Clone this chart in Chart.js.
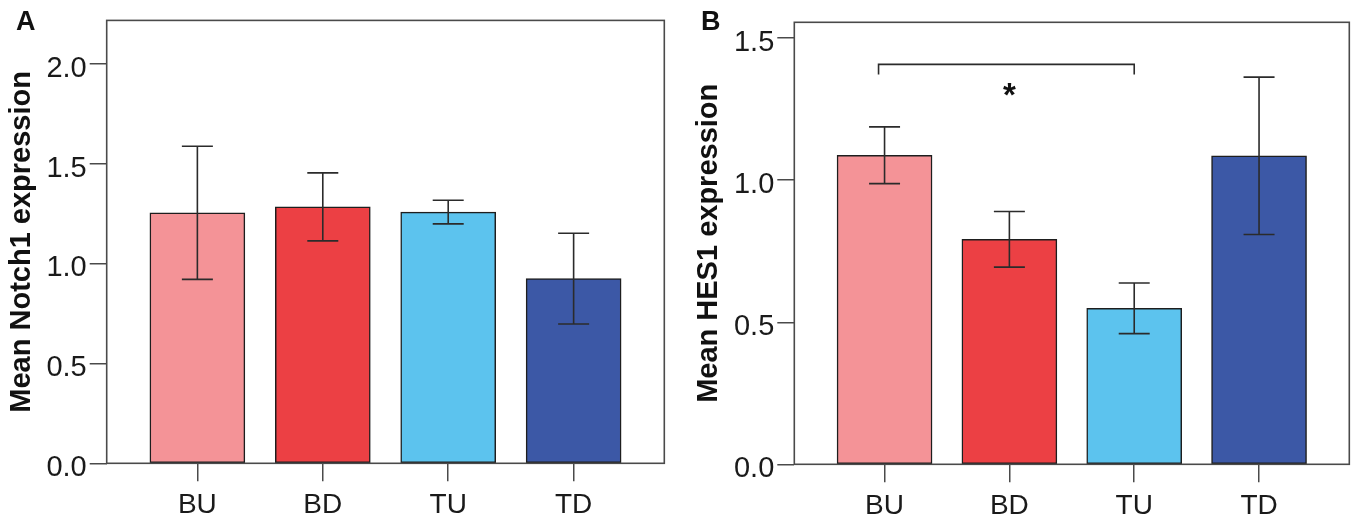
<!DOCTYPE html>
<html><head><meta charset="utf-8">
<script src="https://cdn.jsdelivr.net/npm/chart.js@4.4.0/dist/chart.umd.min.js"></script>
<style>
html,body{margin:0;padding:0;background:#fff;}
#wrap{position:relative;width:1354px;height:516px;overflow:hidden;background:#fff;}
.p{position:absolute;top:0;height:516px;}
</style></head><body>
<div id="wrap">
<div class="p" style="left:0;width:680px"><canvas id="cA"></canvas></div>
<div class="p" style="left:680px;width:674px"><canvas id="cB"></canvas></div>
</div>
<script>
const categories = ['BU', 'BD', 'TU', 'TD'];
const barColors = ['#F49397', '#EC4044', '#5CC3EE', '#3C58A6'];
const notch1Mean = [1.253, 1.283, 1.257, 0.924];
const notch1Err  = [0.333, 0.170, 0.059, 0.227];
const hes1Mean   = [1.088, 0.792, 0.549, 1.086];
const hes1Err    = [0.100, 0.098, 0.089, 0.277];
const notch1Ticks = [0, 0.5, 1.0, 1.5, 2.0];
const hes1Ticks   = [0, 0.5, 1.0, 1.5];
const hes1Sig = { from: 0, to: 2, level: 1.408, drop: 1.372, starLevel: 1.32, label: '*' };

const FAMILY = '"Liberation Sans", Arial, Helvetica, sans-serif';
const AXIS = '#4a4a4a';
const INK = '#1a1a1a';

const boxPlugin = {
  id: 'box',
  afterDraw(chart) {
    const { ctx, chartArea: a } = chart;
    ctx.save();
    ctx.strokeStyle = AXIS; ctx.lineWidth = 1.6;
    ctx.strokeRect(a.left, a.top, a.right - a.left, a.bottom - a.top);
    ctx.restore();
  }
};

function errPlugin(mean, err) {
  return {
    id: 'err',
    afterDatasetsDraw(chart) {
      const { ctx, scales: { x, y } } = chart;
      ctx.save();
      ctx.strokeStyle = '#2b2b2b'; ctx.lineWidth = 1.6;
      mean.forEach((m, i) => {
        const px = x.getPixelForValue(i + 1);
        const t = y.getPixelForValue(m + err[i]);
        const b = y.getPixelForValue(m - err[i]);
        ctx.beginPath();
        ctx.moveTo(px, t); ctx.lineTo(px, b);
        ctx.moveTo(px - 15.5, t); ctx.lineTo(px + 15.5, t);
        ctx.moveTo(px - 15.5, b); ctx.lineTo(px + 15.5, b);
        ctx.stroke();
      });
      ctx.restore();
    }
  };
}

function panelLabel(text, x, y) {
  return {
    id: 'plabel',
    afterDraw(chart) {
      const ctx = chart.ctx;
      ctx.save();
      ctx.fillStyle = '#111';
      ctx.font = 'bold 27px ' + FAMILY;
      ctx.textAlign = 'left'; ctx.textBaseline = 'alphabetic';
      ctx.fillText(text, x, y);
      ctx.restore();
    }
  };
}

function sigPlugin(sig) {
  return {
    id: 'sig',
    afterDraw(chart) {
      const { ctx, scales: { x, y } } = chart;
      const x1 = x.getPixelForValue(sig.from + 1) - 6;
      const x2 = x.getPixelForValue(sig.to + 1);
      const yl = y.getPixelForValue(sig.level);
      const yd = y.getPixelForValue(sig.drop);
      ctx.save();
      ctx.strokeStyle = '#2b2b2b'; ctx.lineWidth = 1.6;
      ctx.beginPath();
      ctx.moveTo(x1, yd); ctx.lineTo(x1, yl); ctx.lineTo(x2, yl); ctx.lineTo(x2, yd);
      ctx.stroke();
      ctx.fillStyle = '#111';
      ctx.font = 'bold 33px ' + FAMILY;
      ctx.textAlign = 'center'; ctx.textBaseline = 'alphabetic';
      const m = ctx.measureText(sig.label);
      const cy = y.getPixelForValue(sig.starLevel);
      const off = (m.actualBoundingBoxAscent - m.actualBoundingBoxDescent) / 2;
      ctx.fillText(sig.label, (x.getPixelForValue(sig.from + 1) + x2) / 2, cy + off);
      ctx.restore();
    }
  };
}

function makeChart(id, c) {
  return new Chart(document.getElementById(id), {
    type: 'bar',
    data: {
      datasets: [{
        data: c.mean.map((v, i) => ({ x: i + 1, y: v })),
        backgroundColor: barColors,
        borderColor: '#1e1e1e',
        borderWidth: 1.5,
        borderSkipped: false,
        barThickness: 95
      }]
    },
    options: {
      responsive: true, maintainAspectRatio: false, animation: false,
      layout: { padding: { top: c.top, right: c.right, left: 0, bottom: 0 } },
      plugins: { legend: { display: false }, tooltip: { enabled: false } },
      scales: {
        x: {
          type: 'linear', min: 0.277, max: 4.723, offset: false,
          afterBuildTicks: s => { s.ticks = categories.map((_, i) => ({ value: i + 1 })); },
          afterFit: s => { s.height = c.xh; },
          grid: { offset: false, drawOnChartArea: false, drawTicks: true, tickLength: 18, color: AXIS, lineWidth: 1.5 },
          border: { display: false },
          ticks: { callback: v => categories[v - 1], font: { family: FAMILY, size: 28 }, color: INK, padding: 7, maxRotation: 0, autoSkip: false }
        },
        y: {
          min: 0, max: c.max,
          afterBuildTicks: s => { s.ticks = c.ticks.map(v => ({ value: v })); },
          afterFit: s => { s.width = c.yw; },
          grid: { drawOnChartArea: false, drawTicks: true, tickLength: 17, color: AXIS, lineWidth: 1.5 },
          border: { display: false },
          ticks: { callback: v => Number(v).toFixed(1), font: { family: FAMILY, size: 29 }, color: INK, padding: 3, labelOffset: 5 },
          title: { display: true, text: c.title, font: { family: FAMILY, size: c.titleSize, weight: 'bold' }, color: '#111', padding: { top: c.titlePad, bottom: 0 } }
        }
      }
    },
    plugins: c.plugins
  });
}

makeChart('cA', {
  mean: notch1Mean, ticks: notch1Ticks, max: 2.216,
  top: 19, right: 15.7, yw: 106.7, xh: 52.7, titleSize: 29, titlePad: 4.6,
  title: 'Mean Notch1 expression',
  plugins: [errPlugin(notch1Mean, notch1Err), boxPlugin, panelLabel('A', 16, 30)]
});
makeChart('cB', {
  mean: hes1Mean, ticks: hes1Ticks, max: 1.556,
  top: 22.3, right: 4.7, yw: 114.3, xh: 51.7, titleSize: 29, titlePad: 11.4,
  title: 'Mean HES1 expression',
  plugins: [errPlugin(hes1Mean, hes1Err), boxPlugin, sigPlugin(hes1Sig), panelLabel('B', 21, 30)]
});
</script>
</body></html>
